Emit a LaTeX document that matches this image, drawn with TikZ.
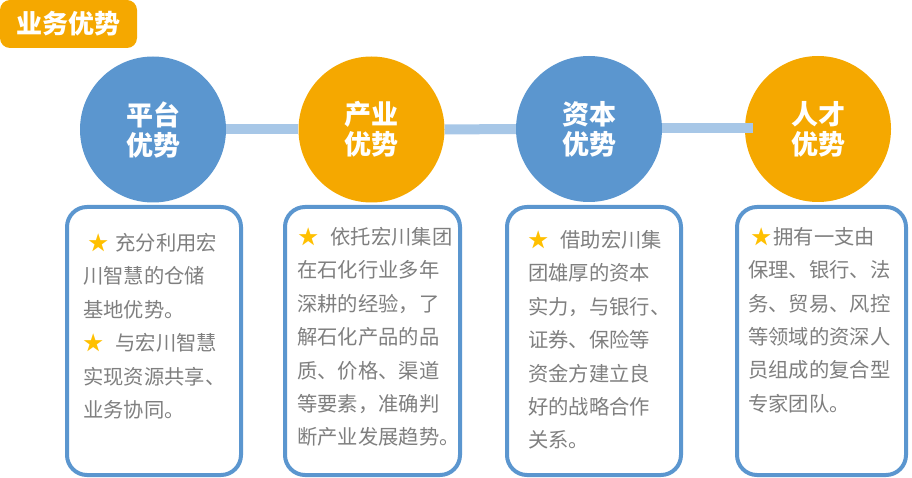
\documentclass[tikz,border=0pt]{standalone}
\usepackage{fontspec}
\setmainfont{Noto Sans CJK SC}
\usetikzlibrary{backgrounds}
\definecolor{cblue}{HTML}{5B96CF}
\definecolor{corange}{HTML}{F5A800}
\definecolor{cbar}{HTML}{A7C7E7}
\definecolor{ctext}{HTML}{7F7F7F}
\definecolor{cstar}{HTML}{FFC000}
\newcommand{\mystar}{{\color{cstar}★}}
\begin{document}
\begin{tikzpicture}[x=1pt,y=-1pt,
 circ/.style={circle,minimum size=146pt,inner sep=0pt,text=white,font=\fontsize{27}{30}\selectfont\bfseries,align=center},
 bluec/.style={circ,fill=cblue},
 orangec/.style={circ,fill=corange},
 bar/.style={draw=cbar,line width=10pt},
 card/.style={draw=cblue,line width=4pt,rounded corners=20pt,fill=white,inner sep=0pt,minimum height=268pt},
 body/.style={anchor=north west,inner sep=0pt,text=ctext,font=\fontsize{20.3}{33.4}\selectfont,align=left},
 titlebox/.style={fill=corange,rounded corners=10pt,minimum width=137pt,minimum height=48pt,inner sep=0pt,text=white,font=\fontsize{26}{30}\selectfont\bfseries},
]
\useasboundingbox (0,0) rectangle (912,478);
\node[titlebox] (title) at (68.5,24) {业务优势};
% circles
\node[bluec] (c1) at (153,129.5) {平台\\优势};
\node[orangec] (c2) at (371.5,129.5) {产业\\优势};
\node[bluec] (c3) at (589,129) {资本\\优势};
\node[orangec] (c4) at (818,129) {人才\\优势};
\coordinate (barend) at (753,128);
% bars
\draw[bar] (c1) -- (c2);
\draw[bar] (c2) -- (c3);
\draw[bar] (c3.east |- barend) -- (barend);
% cards
\node[card,minimum width=174pt] (b1) at (154,341) {};
\node[card,minimum width=175pt] (b2) at (372.5,341) {};
\node[card,minimum width=174pt] (b3) at (594,341) {};
\node[card,minimum width=169pt] (b4) at (821.5,341) {};
% texts
\node[body] (t1) at (83,233) {\hspace{5pt}\mystar\hspace{7pt}充分利用宏\\川智慧的仓储\\基地优势。\\\mystar\hspace{12pt}与宏川智慧\\实现资源共享、\\业务协同。};
\node[body] (t2) at (297,227) {\hspace{1.5pt}\mystar\hspace{11.5pt}依托宏川集团\\在石化行业多年\\深耕的经验，了\\解石化产品的品\\质、价格、渠道\\等要素，准确判\\断产业发展趋势。};
\node[body] (t3) at (528,230) {\mystar\hspace{12pt}借助宏川集\\团雄厚的资本\\实力，与银行、\\证券、保险等\\资金方建立良\\好的战略合作\\关系。};
\node[body] (t4) at (748,227) {\hspace{3.5pt}\mystar\hspace{1.5pt}拥有一支由\\保理、银行、法\\务、贸易、风控\\等领域的资深人\\员组成的复合型\\专家团队。};
\end{tikzpicture}
\end{document}
